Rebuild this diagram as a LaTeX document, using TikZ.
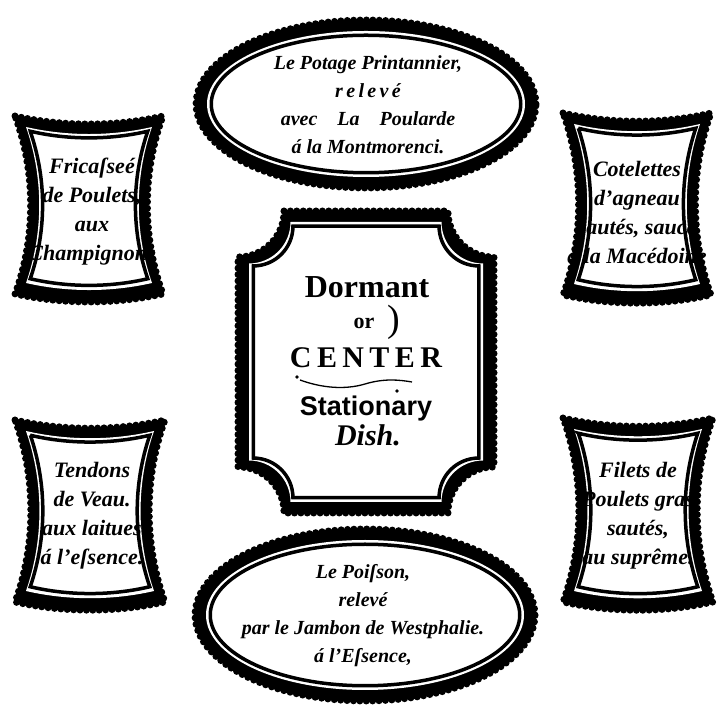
\documentclass[tikz,border=0pt]{standalone}
\usepackage{fontspec}
\setmainfont{Liberation Serif}
\setsansfont{Liberation Sans}
\begin{document}
\begin{tikzpicture}[x=1pt, y=1pt,
    beads/.style={line width=7pt, line cap=round, dash pattern=on 0pt off 6.4pt},
    billtext/.style={align=center, inner sep=0pt, font=\fontsize{20}{28}\selectfont\bfseries\itshape},
    boxtext/.style={align=center, inner sep=0pt, font=\fontsize{22}{29}\selectfont\bfseries\itshape}]
    \useasboundingbox (0,0) rectangle (722,722);

    % Oval dish: beaded rim, white gap, thin inner line
    \def\ovaldish(#1,#2,#3,#4){
        \draw[beads] (#1,#2) ellipse [x radius=#3, y radius=#4];
        \fill (#1,#2) ellipse [x radius=#3, y radius=#4];
        \fill[white] (#1,#2) ellipse [x radius=#3-11, y radius=#4-11];
        \draw[line width=3.5pt] (#1,#2) ellipse [x radius=#3-15.25, y radius=#4-15.25];
    }

    % Side dish with hollow sides
    \def\cushionpath{(-1,1) .. controls (-0.35,0.88) and (0.35,0.88) .. (1,1)
        .. controls (0.72,0.35) and (0.72,-0.35) .. (1,-1)
        .. controls (0.35,-1.12) and (-0.35,-1.12) .. (-1,-1)
        .. controls (-0.72,-0.35) and (-0.72,0.35) .. cycle}
    \def\cushiondish(#1,#2,#3,#4){
        \draw[beads, shift={(#1,#2)}, xscale=#3, yscale=#4] \cushionpath;
        \fill[shift={(#1,#2)}, xscale=#3, yscale=#4] \cushionpath;
        \fill[white, shift={(#1,#2)}, xscale=#3-11, yscale=#4-11] \cushionpath;
        \draw[line width=3.5pt, shift={(#1,#2)}, xscale=#3-15.25, yscale=#4-15.25] \cushionpath;
    }

    % Centre dish with notched corners
    \def\notchpath#1#2#3{({-(#1)+(#3)},{#2}) -- ({#1-(#3)},{#2}) arc[start angle=180, end angle=270, radius=#3]
        -- ({#1},{-(#2)+(#3)}) arc[start angle=90, end angle=180, radius=#3]
        -- ({-(#1)+(#3)},{-(#2)}) arc[start angle=0, end angle=90, radius=#3]
        -- ({-(#1)},{#2-(#3)}) arc[start angle=270, end angle=360, radius=#3] -- cycle}

    % Dishes
    \ovaldish(366,618,170,84)
    \ovaldish(365,107,170,86)
    \cushiondish(89,517,74,89)
    \cushiondish(637,518,74,91)
    \cushiondish(90,211,75,91)
    \cushiondish(638,212,75,92)

    \draw[beads, shift={(366,360)}] \notchpath{128}{151}{46};
    \fill[shift={(366,360)}] \notchpath{128}{151}{46};
    \fill[white, shift={(366,360)}] \notchpath{117}{140}{41.5};
    \draw[line width=3.5pt, shift={(366,360)}] \notchpath{112.75}{135.75}{39.7};

    % Bills of fare
    \node[billtext] (potage) at (368,617) {Le Potage Printannier,\\ r\,e\,l\,e\,v\,é\\ avec\quad La\quad Poularde\\ á la Montmorenci.};
    \node[billtext] (poisson) at (363,106) {Le Poiſson,\\ relevé\\ par le Jambon de Westphalie.\\ á l'Eſsence,};
    \node[boxtext] (fricassee) at (92,510) {Fricaſseé\\ de Poulets,\\ aux\\ Champignons};
    \node[boxtext] (cotelettes) at (637,510) {Cotelettes\\ d'agneau\\ sautés, sauce\\ à la Macédoine};
    \node[boxtext] (tendons) at (92,206) {Tendons\\ de Veau.\\ aux laitues\\ á l'eſsence.};
    \node[boxtext] (filets) at (638,206) {Filets de\\ Poulets gras\\ sautés,\\ au suprême.};

    % Centre piece
    \node[font=\fontsize{32}{32}\selectfont\bfseries] (dormant) at (367,435) {Dormant};
    \node[font=\fontsize{22}{22}\selectfont\bfseries] (or) at (364,399) {or};
    \node[font=\fontsize{38}{38}\selectfont] (brace) at (394,400) {)};
    \node[font=\fontsize{30}{30}\selectfont\bfseries\addfontfeatures{LetterSpace=18}] (center) at (366,364) {CENTER};
    \node[font=\fontsize{27}{27}\selectfont\sffamily\bfseries] (stationary) at (366,313) {Stationary};
    \node[font=\fontsize{30}{30}\selectfont\bfseries\itshape] (dish) at (368,287) {Dish.};

    % Flourish under CENTER
    \draw[line width=1.3pt] (300,342) .. controls (322,334) and (345,332) .. (365,338)
        .. controls (385,344) and (400,342) .. (412,340);
    \fill (297,345) circle (1.8pt);
    \fill (397,331) circle (1.8pt);
\end{tikzpicture}
\end{document}
